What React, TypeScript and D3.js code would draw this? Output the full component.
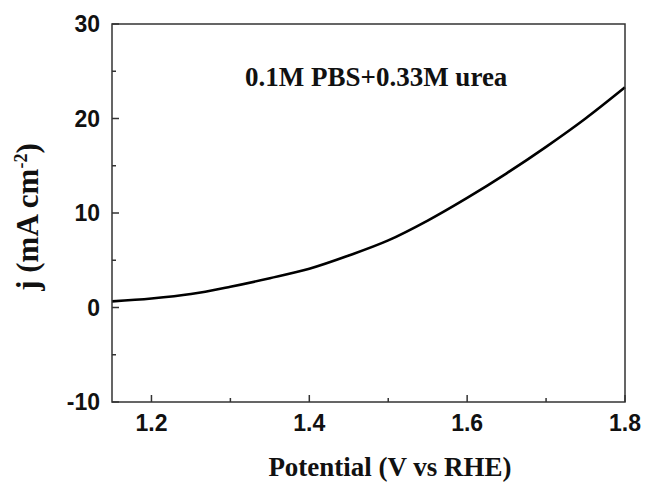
import React from "react";
import * as d3 from "d3";

const potential = [1.15, 1.2, 1.25, 1.3, 1.35, 1.4, 1.45, 1.5, 1.55, 1.6, 1.65, 1.7, 1.75, 1.8];
const current = [0.65, 0.95, 1.42, 2.2, 3.1, 4.1, 5.5, 7.1, 9.2, 11.6, 14.2, 17.0, 20.0, 23.3];
const xMajor = [1.2, 1.4, 1.6, 1.8];
const xMinor = [1.3, 1.5, 1.7];
const yMajor = [-10, 0, 10, 20, 30];
const yMinor = [-5, 5, 15, 25];

export default function App() {
  const W = 647, H = 489;
  const L = 112, R = 625, T = 24, B = 402;
  const x = d3.scaleLinear().domain([1.15, 1.8]).range([L, R]);
  const y = d3.scaleLinear().domain([-10, 30]).range([B, T]);
  const line = d3
    .line<number>()
    .x((_, i) => x(potential[i]))
    .y((d) => y(d))
    .curve(d3.curveCatmullRom.alpha(0.5));
  const axisColor = "#333";
  const sans = "Liberation Sans, Arial, sans-serif";
  const serif = "Liberation Serif, Times New Roman, serif";
  return (
    <svg width={W} height={H} style={{ position: "absolute", left: 0, top: 0 }}>
      <rect x={0} y={0} width={W} height={H} fill="#fff" />
      <path d={line(current) || ""} fill="none" stroke="#000" strokeWidth={2.6} />
      <rect x={L} y={T} width={R - L} height={B - T} fill="none" stroke={axisColor} strokeWidth={1.5} />
      {xMajor.map((v) => (
        <g key={"xm" + v}>
          <line x1={x(v)} x2={x(v)} y1={B} y2={B - 7} stroke={axisColor} strokeWidth={1.5} />
          <text x={x(v)} y={431} textAnchor="middle" fontFamily={sans} fontWeight="bold" fontSize={23} fill="#111">
            {v.toFixed(1)}
          </text>
        </g>
      ))}
      {xMinor.map((v) => (
        <line key={"xn" + v} x1={x(v)} x2={x(v)} y1={B} y2={B - 4} stroke={axisColor} strokeWidth={1.5} />
      ))}
      {yMajor.map((v) => (
        <g key={"ym" + v}>
          <line x1={L} x2={L + 7} y1={y(v)} y2={y(v)} stroke={axisColor} strokeWidth={1.5} />
          <text x={100} y={y(v) + 8} textAnchor="end" fontFamily={sans} fontWeight="bold" fontSize={23} fill="#111">
            {v}
          </text>
        </g>
      ))}
      {yMinor.map((v) => (
        <line key={"yn" + v} x1={L} x2={L + 4} y1={y(v)} y2={y(v)} stroke={axisColor} strokeWidth={1.5} />
      ))}
      <text x={390} y={476} textAnchor="middle" fontFamily={serif} fontWeight="bold" fontSize={27} fill="#111">
        Potential (V vs RHE)
      </text>
      <text transform={`translate(38, 217) rotate(-90)`} textAnchor="middle" fontFamily={serif} fontWeight="bold" fontSize={31} fill="#111">
        j (mA cm<tspan dy={-11} fontSize={18}>-2</tspan><tspan dy={11}>)</tspan>
      </text>
      <text x={245} y={86} fontFamily={serif} fontWeight="bold" fontSize={27} fill="#111">
        0.1M PBS+0.33M urea
      </text>
    </svg>
  );
}
